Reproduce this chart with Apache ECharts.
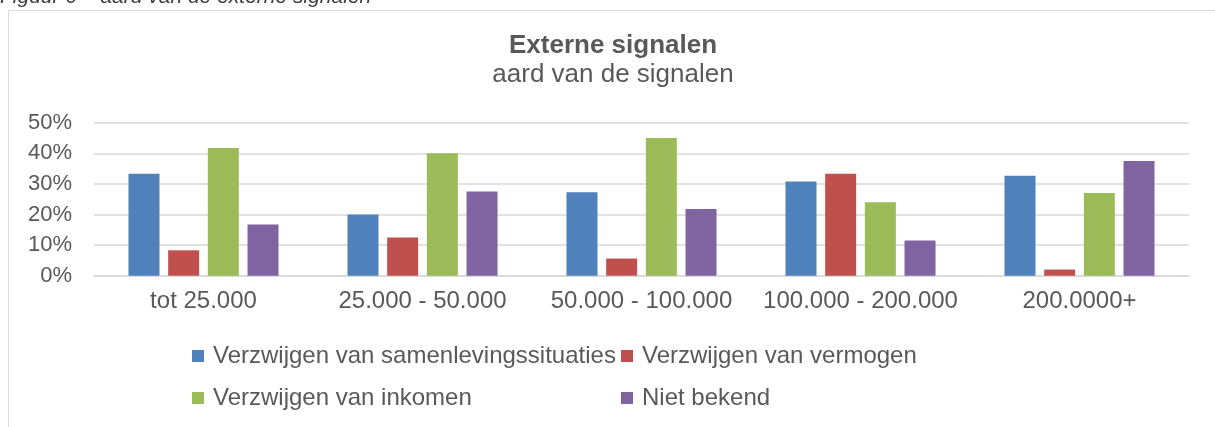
<!DOCTYPE html>
<html>
<head>
<meta charset="utf-8">
<script src="https://cdn.jsdelivr.net/npm/echarts@6/dist/echarts.min.js"></script>
<style>
  html, body { margin: 0; padding: 0; background: #fff; }
  #chart { width: 1215px; height: 427px; }
</style>
</head>
<body>
<div id="chart"></div>
<script>
// categorieën (inkomensklassen)
const categories = ['tot 25.000', '25.000 - 50.000', '50.000 - 100.000', '100.000 - 200.000', '200.0000+'];

const samenleving = [33.3, 20.0, 27.3, 30.8, 32.7];
const vermogen = [8.3, 12.5, 5.6, 33.3, 2.0];
const inkomen = [41.7, 40.0, 45.0, 24.0, 27.0];
const nietBekend = [16.7, 27.5, 21.8, 11.5, 37.5];

const seriesNames = [
  'Verzwijgen van samenlevingssituaties',
  'Verzwijgen van vermogen',
  'Verzwijgen van inkomen',
  'Niet bekend'
];
const colors = ['#4F81BD', '#C0504D', '#9BBB59', '#8064A2'];
const yTicks = [0, 10, 20, 30, 40, 50];

const txt = '#595959';
const font = 'Liberation Sans, Arial, sans-serif';

const chart = echarts.init(document.getElementById('chart'));

function legendAt(name, left, top) {
  return {
    data: [name],
    left: left,
    top: top,
    padding: 0,
    icon: 'rect',
    itemWidth: 12,
    itemHeight: 12,
    selectedMode: false,
    textStyle: { color: txt, fontSize: 24, fontFamily: font, padding: [0, 0, 0, 4] }
  };
}

const option = {
  animation: false,
  color: colors,
  title: [
    {
      text: 'Externe signalen',
      left: 613,
      top: 33,
      padding: 0,
      textAlign: 'center',
      textStyle: { color: txt, fontSize: 26, fontWeight: 'bold', fontFamily: font }
    },
    {
      text: 'aard van de signalen',
      left: 613,
      top: 62,
      padding: 0,
      textAlign: 'center',
      textStyle: { color: txt, fontSize: 26, fontWeight: 'normal', fontFamily: font }
    }
  ],
  graphic: [
    {
      type: 'rect',
      shape: { x: 8.5, y: 10.5, width: 1400, height: 600 },
      style: { fill: 'none', stroke: '#d9d9d9', lineWidth: 1 },
      silent: true
    },
    {
      type: 'text',
      x: 0,
      y: 8,
      style: {
        text: 'Figuur 6 \u2013 aard van de externe signalen',
        font: 'italic 21px ' + font,
        fill: '#404040',
        verticalAlign: 'bottom'
      },
      silent: true
    }
  ],
  legend: [
    legendAt(seriesNames[0], 192, 344),
    legendAt(seriesNames[1], 621, 344),
    legendAt(seriesNames[2], 192, 386),
    legendAt(seriesNames[3], 621, 386)
  ],
  grid: { left: 94, right: 26, top: 122.7, bottom: 151.3, containLabel: false },
  xAxis: {
    type: 'category',
    data: categories,
    axisLine: { lineStyle: { color: '#d9d9d9', width: 1.5 } },
    axisTick: { show: false },
    axisLabel: { color: txt, fontSize: 24, fontFamily: font, margin: 14, interval: 0 }
  },
  yAxis: {
    type: 'value',
    min: yTicks[0],
    max: yTicks[yTicks.length - 1],
    interval: 10,
    axisLine: { show: false },
    axisTick: { show: false },
    splitLine: { lineStyle: { color: '#d9d9d9', width: 1.5 } },
    axisLabel: { color: txt, fontSize: 22, fontFamily: font, margin: 22, formatter: '{value}%' }
  },
  series: [samenleving, vermogen, inkomen, nietBekend].map((d, i) => ({
    name: seriesNames[i],
    type: 'bar',
    data: d,
    barWidth: 31,
    barGap: '28%',
    itemStyle: { color: colors[i] }
  }))
};

chart.setOption(option);
</script>
</body>
</html>
